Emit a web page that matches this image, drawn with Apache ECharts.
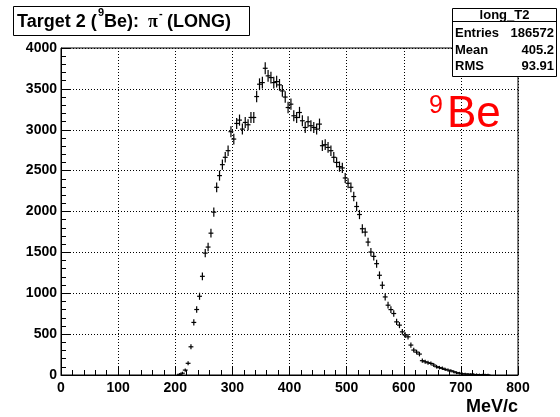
<!DOCTYPE html>
<html><head><meta charset="utf-8">
<script src="https://cdn.jsdelivr.net/npm/echarts/dist/echarts.min.js"></script>
<style>html,body{margin:0;padding:0;background:#fff}#c{width:560px;height:417px}</style>
</head><body><div id="c"></div>
<script>
// ---- data ----
const binCenters = [207.5,212.5,217.5,222.5,227.5,232.5,237.5,242.5,247.5,252.5,257.5,262.5,267.5,272.5,277.5,282.5,287.5,292.5,297.5,302.5,307.5,312.5,317.5,322.5,327.5,332.5,337.5,342.5,347.5,352.5,357.5,362.5,367.5,372.5,377.5,382.5,387.5,392.5,397.5,402.5,407.5,412.5,417.5,422.5,427.5,432.5,437.5,442.5,447.5,452.5,457.5,462.5,467.5,472.5,477.5,482.5,487.5,492.5,497.5,502.5,507.5,512.5,517.5,522.5,527.5,532.5,537.5,542.5,547.5,552.5,557.5,562.5,567.5,572.5,577.5,582.5,587.5,592.5,597.5,602.5,607.5,612.5,617.5,622.5,627.5,632.5,637.5,642.5,647.5,652.5,657.5,662.5,667.5,672.5,677.5,682.5,687.5,692.5,697.5,702.5,707.5,712.5,717.5,722.5,727.5,732.5,737.5,742.5,747.5];
const counts = [8,22,60,143,345,643,801,963,1207,1491,1565,1735,1992,2296,2439,2573,2663,2744,2976,2886,3077,3118,3008,3089,3061,3150,3150,3406,3557,3577,3752,3659,3638,3577,3589,3549,3475,3400,3272,3313,3171,3150,3211,3110,3028,3098,3049,3028,3008,3069,2805,2817,2784,2744,2663,2600,2549,2533,2410,2345,2296,2183,2061,1963,1789,1748,1626,1504,1451,1362,1220,1098,955,854,800,752,650,610,528,488,467,366,305,280,256,175,162,150,142,122,101,90,82,69,60,52,40,28,22,15,12,10,8,6,5,3,2,2,1];
const binWidth = 5;
const xTicks = [0,100,200,300,400,500,600,700,800];
const yTicks = [0,500,1000,1500,2000,2500,3000,3500,4000];
const xTitle = 'MeV/c';
const histName = 'long_T2';
const statNames = ['Entries','Mean','RMS'];
const statValues = ['186572','405.2','93.91'];

// ---- chart ----
const SANS = "'Liberation Sans', Arial, Helvetica, sans-serif";
const chart = echarts.init(document.getElementById('c'), null, {renderer:'canvas'});
const pts = binCenters.map((x,i)=>[x, counts[i]]);
const axisCommon = {
  axisLine:{show:true, onZero:false, lineStyle:{color:'#000', width:1}},
  axisTick:{show:true, inside:true, length:9, lineStyle:{color:'#000', width:1}},
  minorTick:{show:true, splitNumber:5, length:5, lineStyle:{color:'#000', width:1}},
  splitLine:{show:true, lineStyle:{color:'#000', width:1, type:[1,2]}},
  axisLabel:{color:'#000', fontFamily:SANS, fontWeight:'bold', fontSize:14}
};
const statsRows = statNames.map((n,i)=>({n, v:statValues[i]}));
const graphics = [
  // title box
  {type:'rect', shape:{x:13.5,y:6.5,width:236,height:29}, style:{fill:'#fff', stroke:'#000', lineWidth:1}, z:100},
  {type:'text', x:17, y:22, style:{text:'Target 2 (', font:'bold 18px '+SANS, fill:'#000', verticalAlign:'middle'}, z:101},
  {type:'text', x:98, y:13, style:{text:'9', font:'bold 11px '+SANS, fill:'#000', verticalAlign:'middle'}, z:101},
  {type:'text', x:104, y:22, style:{text:'Be): ', font:'bold 18px '+SANS, fill:'#000', verticalAlign:'middle'}, z:101},
  {type:'text', x:148, y:22, style:{text:'\u03c0', font:'bold 18px "Liberation Serif", "Times New Roman", serif', fill:'#000', verticalAlign:'middle'}, z:101},
  {type:'text', x:159, y:14, style:{text:'-', font:'bold 11px '+SANS, fill:'#000', verticalAlign:'middle'}, z:101},
  {type:'text', x:167, y:22, style:{text:'(LONG)', font:'bold 18px '+SANS, fill:'#000', verticalAlign:'middle'}, z:101},
  // stats box
  {type:'rect', shape:{x:452.5,y:8.5,width:104,height:68}, style:{fill:'#fff', stroke:'#000', lineWidth:1}, z:100},
  {type:'line', shape:{x1:452.5,y1:21.5,x2:556.5,y2:21.5}, style:{stroke:'#000', lineWidth:1}, z:101},
  {type:'text', x:504.5, y:15, style:{text:histName, font:'bold 13px '+SANS, fill:'#000', align:'center', verticalAlign:'middle'}, z:101},
  ...statsRows.flatMap((r,i)=>[
    {type:'text', x:455, y:33.5+i*16.5, style:{text:r.n, font:'bold 13px '+SANS, fill:'#000', verticalAlign:'middle'}, z:101},
    {type:'text', x:554, y:33.5+i*16.5, style:{text:r.v, font:'bold 13px '+SANS, fill:'#000', align:'right', verticalAlign:'middle'}, z:101}
  ]),
  // 9Be label
  {type:'text', x:429, y:106, style:{text:'9', font:'25px '+SANS, fill:'#ff0000', verticalAlign:'middle'}, z:101},
  {type:'text', x:447, y:115, style:{text:'Be', font:'44px '+SANS, fill:'#ff0000', verticalAlign:'middle'}, z:101},
  // x title
  {type:'text', x:518, y:407, style:{text:xTitle, font:'bold 18px '+SANS, fill:'#000', align:'right', verticalAlign:'middle'}, z:101}
];
chart.setOption({
  animation:false,
  backgroundColor:'#fff',
  grid:{left:61, top:48, right:42, bottom:42, show:true, borderColor:'#000', borderWidth:1, backgroundColor:'transparent'},
  xAxis:Object.assign({type:'value', min:0, max:800, interval:100}, axisCommon, {
    axisLabel:Object.assign({}, axisCommon.axisLabel, {margin:6, formatter:v=>{const i=xTicks.indexOf(v);return i<0?'':String(xTicks[i]);}})
  }),
  yAxis:Object.assign({type:'value', min:0, max:4000, interval:500}, axisCommon, {
    axisLabel:Object.assign({}, axisCommon.axisLabel, {margin:4, formatter:v=>{const i=yTicks.indexOf(v);return i<0?'':String(yTicks[i]);}})
  }),
  series:[{
    type:'custom',
    data:pts,
    clip:true,
    renderItem:function(params, api){
      const x = api.value(0), y = api.value(1), e = Math.sqrt(y);
      const t = api.coord([x, y+e]), b = api.coord([x, Math.max(0, y-e)]);
      const l = api.coord([x-binWidth/2, y]), r = api.coord([x+binWidth/2, y]);
      const c = api.coord([x, y]);
      return {type:'group', children:[
        {type:'line', shape:{x1:c[0], y1:t[1]-1, x2:c[0], y2:b[1]+1}, style:{stroke:'#000', lineWidth:1.2}},
        {type:'line', shape:{x1:l[0]-1, y1:c[1], x2:r[0]+1, y2:c[1]}, style:{stroke:'#000', lineWidth:1.2}}
      ]};
    }
  }],
  graphic:graphics
});
</script></body></html>
